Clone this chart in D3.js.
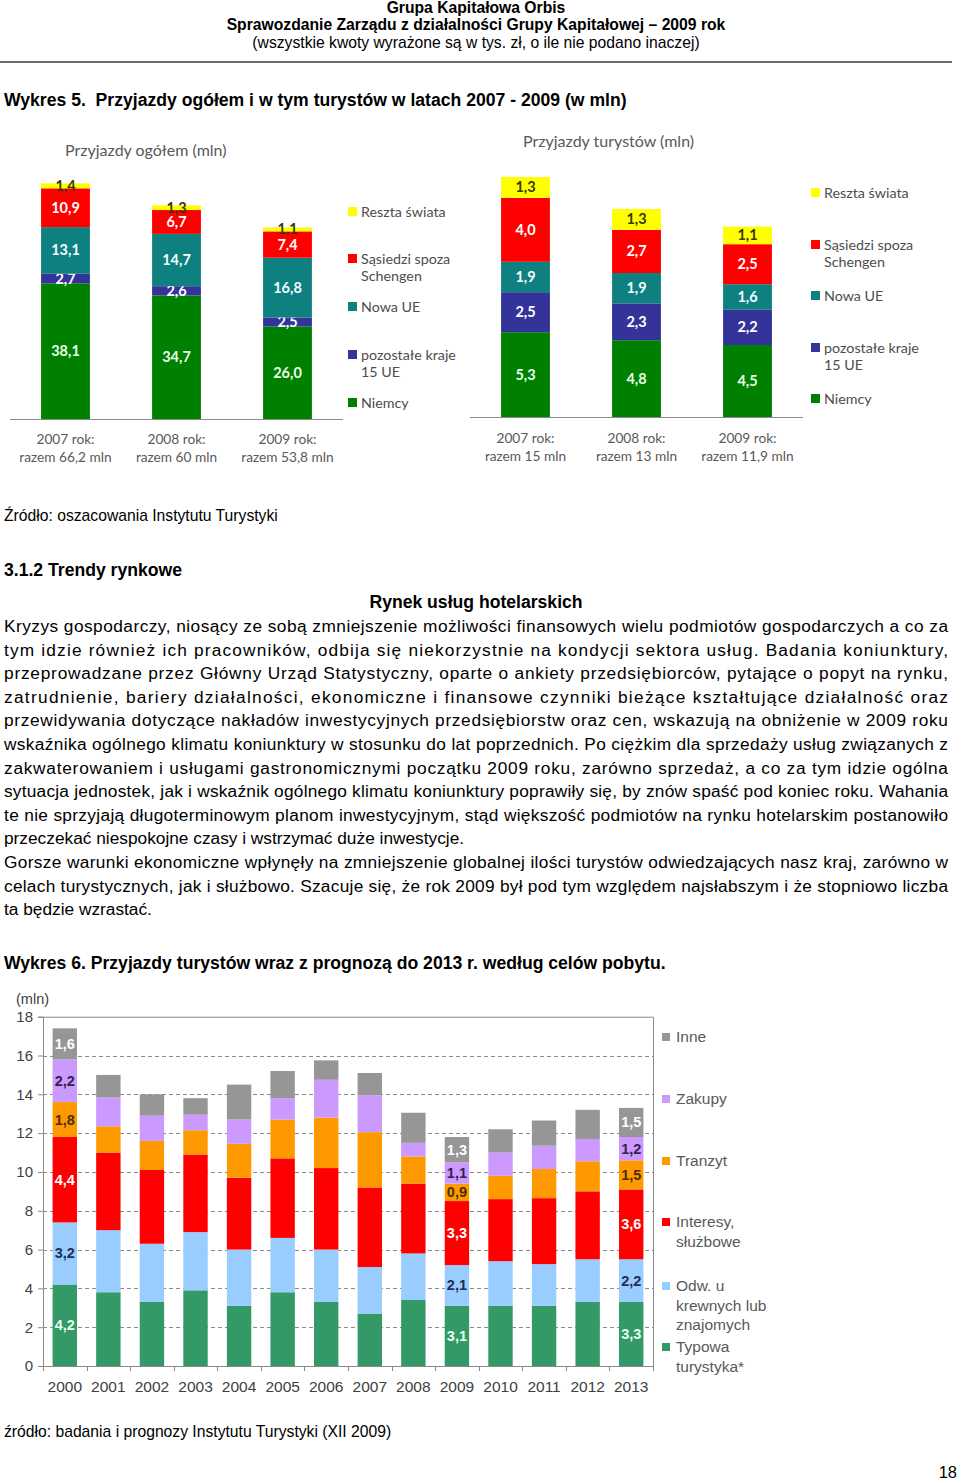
<!DOCTYPE html>
<html>
<head>
<meta charset="utf-8">
<script src="https://cdn.jsdelivr.net/npm/d3@7"></script>
<style>
  body { margin: 0; background: #fff; }
  svg { display: block; }
</style>
</head>
<body>
<div id="page"></div>
<script>
// Wykres 5 - przyjazdy ogółem (mln)
var topYears = ["2007", "2008", "2009"];
var allNiemcy = [38.1, 34.7, 26.0];
var allPozostale = [2.7, 2.6, 2.5];
var allNowaUE = [13.1, 14.7, 16.8];
var allSasiedzi = [10.9, 6.7, 7.4];
var allReszta = [1.4, 1.3, 1.1];
var allTotals = ["66,2", "60", "53,8"];

// Wykres 5 - przyjazdy turystów (mln)
var turNiemcy = [5.3, 4.8, 4.5];
var turPozostale = [2.5, 2.3, 2.2];
var turNowaUE = [1.9, 1.9, 1.6];
var turSasiedzi = [4.0, 2.7, 2.5];
var turReszta = [1.3, 1.3, 1.1];
var turTotals = ["15", "13", "11,9"];

// Wykres 6 - cele pobytu 2000-2013 (mln)
var years = ["2000", "2001", "2002", "2003", "2004", "2005", "2006",
             "2007", "2008", "2009", "2010", "2011", "2012", "2013"];
var typowa = [4.2, 3.8, 3.3, 3.9, 3.1, 3.8, 3.3, 2.7, 3.4, 3.1, 3.1, 3.1, 3.3, 3.3];
var odwiedziny = [3.2, 3.2, 3.0, 3.0, 2.9, 2.8, 2.7, 2.4, 2.4, 2.1, 2.3, 2.15, 2.2, 2.2];
var interesy = [4.4, 4.0, 3.8, 4.0, 3.7, 4.1, 4.2, 4.1, 3.6, 3.3, 3.2, 3.4, 3.5, 3.6];
var tranzyt = [1.8, 1.35, 1.5, 1.25, 1.75, 2.0, 2.6, 2.85, 1.4, 0.9, 1.2, 1.5, 1.55, 1.5];
var zakupy = [2.2, 1.5, 1.3, 0.8, 1.25, 1.1, 1.95, 1.9, 0.7, 1.1, 1.2, 1.2, 1.15, 1.2];
var inne = [1.6, 1.15, 1.1, 0.85, 1.8, 1.4, 1.0, 1.15, 1.55, 1.3, 1.2, 1.3, 1.5, 1.5];
var labeledYears = ["2000", "2009", "2013"];
var yTicks = [0, 2, 4, 6, 8, 10, 12, 14, 16, 18];

var topLegend = [
  { name: ["Reszta świata"], color: "#ffff00" },
  { name: ["Sąsiedzi spoza", "Schengen"], color: "#ff0000" },
  { name: ["Nowa UE"], color: "#0f8080" },
  { name: ["pozostałe kraje", "15 UE"], color: "#333399" },
  { name: ["Niemcy"], color: "#008000" }
];
var topLabelColors = ["#e8ffe8", "#ffffff", "#f0ffff", "#ffffff", "#3a3a00"];

var svg = d3.select("#page").append("svg")
    .attr("width", 960).attr("height", 1480)
    .style("background", "#fff");

var arial = "'Liberation Sans', Arial, sans-serif";
var calib = "Lato, 'Open Sans', sans-serif";
var grey = "#595959";

/** HEADER **/
function txt(x, y, s, size, weight, anchor, font, fill) {
  return svg.append("text")
    .attr("x", x).attr("y", y)
    .attr("font-family", font || arial)
    .attr("font-size", size)
    .attr("font-weight", weight || "normal")
    .attr("text-anchor", anchor || "start")
    .attr("fill", fill || "#000")
    .style("white-space", "pre")
    .text(s);
}
txt(476, 13, "Grupa Kapitałowa Orbis", 15.7, "bold", "middle");
txt(476, 30, "Sprawozdanie Zarządu z działalności Grupy Kapitałowej – 2009 rok", 15.7, "bold", "middle");
txt(476, 48, "(wszystkie kwoty wyrażone są w tys. zł, o ile nie podano inaczej)", 15.7, "normal", "middle");
svg.append("line").attr("x1", 0).attr("x2", 952).attr("y1", 62).attr("y2", 62)
   .attr("stroke", "#6b6b6b").attr("stroke-width", 2);

txt(4, 106, "Wykres 5.  Przyjazdy ogółem i w tym turystów w latach 2007 - 2009 (w mln)", 17.6, "bold");

/** TOP STACKED CHARTS **/
function drawTopChart(cfg) {
  var series = [cfg.s0, cfg.s1, cfg.s2, cfg.s3, cfg.s4];
  var colors = ["#008000", "#333399", "#0f8080", "#ff0000", "#ffff00"];
  var g = svg.append("g");

  var x = d3.scaleBand().domain(topYears)
      .range([cfg.x0, cfg.x1]).paddingInner(0.56).paddingOuter(0.28);
  var y = d3.scaleLinear().domain([0, cfg.maxV])
      .range([cfg.base, cfg.base - cfg.maxV * cfg.pxPerUnit]);

  var rows = topYears.map(function (yr, i) {
    var o = { year: yr };
    for (var k = 0; k < series.length; k++) o["k" + k] = series[k][i];
    return o;
  });
  var stack = d3.stack().keys(["k0", "k1", "k2", "k3", "k4"])(rows);

  stack.forEach(function (layer, li) {
    g.selectAll(null).data(layer).enter().append("rect")
      .attr("x", function (d) { return x(d.data.year); })
      .attr("width", x.bandwidth())
      .attr("y", function (d) { return y(d[1]); })
      .attr("height", function (d) { return y(d[0]) - y(d[1]); })
      .attr("fill", colors[li]);
    g.selectAll(null).data(layer).enter().append("text")
      .attr("x", function (d) { return x(d.data.year) + x.bandwidth() / 2; })
      .attr("y", function (d) { return (y(d[0]) + y(d[1])) / 2 + 5; })
      .attr("text-anchor", "middle")
      .attr("font-family", calib)
      .attr("font-weight", "bold")
      .attr("font-size", 14.5)
      .attr("fill", topLabelColors[li])
      .text(function (d) { return d3.format(".1f")(d[1] - d[0]).replace(".", ","); });
  });

  g.append("line").attr("x1", cfg.x0).attr("x2", cfg.x1)
    .attr("y1", cfg.base + 0.5).attr("y2", cfg.base + 0.5)
    .attr("stroke", "#8c8c8c").attr("stroke-width", 1.2);

  topYears.forEach(function (yr, i) {
    var cx = x(yr) + x.bandwidth() / 2;
    txt(cx, cfg.catY, yr + " rok:", 13.7, "normal", "middle", calib, grey);
    txt(cx, cfg.catY + 18, "razem " + cfg.totals[i] + " mln", 13.7, "normal", "middle", calib, grey);
  });

  txt(cfg.titleX, cfg.titleY, cfg.title, 16, "normal", "start", calib, grey);

  topLegend.forEach(function (l, i) {
    var ly = cfg.legY[i];
    g.append("rect").attr("x", cfg.legX).attr("y", ly - 5)
      .attr("width", 9).attr("height", 9).attr("fill", l.color);
    l.name.forEach(function (ln, j) {
      txt(cfg.legX + 13, ly + 5 + j * 17, ln, 14.3, "normal", "start", calib, "#4d4d4d");
    });
  });
}

drawTopChart({
  s0: allNiemcy, s1: allPozostale, s2: allNowaUE, s3: allSasiedzi, s4: allReszta,
  totals: allTotals, x0: 10, x1: 343, base: 419, maxV: 70, pxPerUnit: 3.56,
  catY: 444, title: "Przyjazdy ogółem (mln)", titleX: 65, titleY: 156,
  legX: 348, legY: [212, 259, 307, 355, 403]
});
drawTopChart({
  s0: turNiemcy, s1: turPozostale, s2: turNowaUE, s3: turSasiedzi, s4: turReszta,
  totals: turTotals, x0: 470, x1: 803, base: 417, maxV: 16, pxPerUnit: 16.0,
  catY: 443, title: "Przyjazdy turystów (mln)", titleX: 523, titleY: 147,
  legX: 811, legY: [193, 245, 296, 348, 399]
});

/** TEXT BLOCK **/
txt(4, 521, "Źródło: oszacowania Instytutu Turystyki", 15.7);
txt(4, 576, "3.1.2 Trendy rynkowe", 17.6, "bold");
txt(476, 608, "Rynek usług hotelarskich", 17.6, "bold", "middle");

var bodyLines = [
  ["Kryzys gospodarczy, niosący ze sobą zmniejszenie możliwości finansowych wielu podmiotów gospodarczych a co za", true],
  ["tym idzie również ich pracowników, odbija się niekorzystnie na kondycji sektora usług. Badania koniunktury,", true],
  ["przeprowadzane przez Główny Urząd Statystyczny, oparte o ankiety przedsiębiorców, pytające o popyt na rynku,", true],
  ["zatrudnienie, bariery działalności, ekonomiczne i finansowe czynniki bieżące kształtujące działalność oraz", true],
  ["przewidywania dotyczące nakładów inwestycyjnych przedsiębiorstw oraz cen, wskazują na obniżenie w 2009 roku", true],
  ["wskaźnika ogólnego klimatu koniunktury w stosunku do lat poprzednich. Po ciężkim dla sprzedaży usług związanych z", true],
  ["zakwaterowaniem i usługami gastronomicznymi początku 2009 roku, zarówno sprzedaż, a co za tym idzie ogólna", true],
  ["sytuacja jednostek, jak i wskaźnik ogólnego klimatu koniunktury poprawiły się, by znów spaść pod koniec roku. Wahania", true],
  ["te nie sprzyjają długoterminowym planom inwestycyjnym, stąd większość podmiotów na rynku hotelarskim postanowiło", true],
  ["przeczekać niespokojne czasy i wstrzymać duże inwestycje.", false],
  ["Gorsze warunki ekonomiczne wpłynęły na zmniejszenie globalnej ilości turystów odwiedzających nasz kraj, zarówno w", true],
  ["celach turystycznych, jak i służbowo. Szacuje się, że rok 2009 był pod tym względem najsłabszym i że stopniowo liczba", true],
  ["ta będzie wzrastać.", false]
];
bodyLines.forEach(function (l, i) {
  var t = txt(4, 632 + i * 23.6, l[0], 17.3);
  if (l[1]) t.attr("textLength", 944).attr("lengthAdjust", "spacing");
});

txt(4, 969, "Wykres 6. Przyjazdy turystów wraz z prognozą do 2013 r. według celów pobytu.", 17.6, "bold");

/** BOTTOM CHART **/
var bx0 = 43, bx1 = 653, by0 = 1366, by1 = 1016.7;
var purposeColors = ["#339966", "#99ccff", "#ff0000", "#ff9900", "#cc99ff", "#969696"];
var purposeLabelColors = ["#e6fff0", "#1f2f55", "#ffffff", "#4a3000", "#33224f", "#ffffff"];
var purposeSeries = [typowa, odwiedziny, interesy, tranzyt, zakupy, inne];

var bx = d3.scaleBand().domain(years).range([bx0, bx1]).paddingInner(0.44).paddingOuter(0.22);
var by = d3.scaleLinear().domain([0, 18]).range([by0, by1]);

var bg = svg.append("g");
// dashed grid
bg.selectAll(null).data(yTicks.filter(function (v) { return v > 0 && v < 18; })).enter()
  .append("line")
  .attr("x1", bx0).attr("x2", bx1)
  .attr("y1", function (d) { return Math.round(by(d)) + 0.5; })
  .attr("y2", function (d) { return Math.round(by(d)) + 0.5; })
  .attr("stroke", "#8a8a8a").attr("stroke-dasharray", "4,3");
// plot frame top/right
bg.append("path")
  .attr("d", "M" + bx0 + "," + (by1 + 0.5) + "H" + (bx1 + 0.5) + "V" + by0)
  .attr("fill", "none").attr("stroke", "#8a8a8a");

var rows6 = years.map(function (yr, i) {
  var o = { year: yr };
  for (var k = 0; k < purposeSeries.length; k++) o["p" + k] = purposeSeries[k][i];
  return o;
});
var stack6 = d3.stack().keys(["p0", "p1", "p2", "p3", "p4", "p5"])(rows6);

stack6.forEach(function (layer, li) {
  bg.selectAll(null).data(layer).enter().append("rect")
    .attr("x", function (d) { return bx(d.data.year); })
    .attr("width", bx.bandwidth())
    .attr("y", function (d) { return by(d[1]); })
    .attr("height", function (d) { return by(d[0]) - by(d[1]); })
    .attr("fill", purposeColors[li]);
  bg.selectAll(null)
    .data(layer.filter(function (d) { return labeledYears.indexOf(d.data.year) >= 0; }))
    .enter().append("text")
    .attr("x", function (d) { return bx(d.data.year) + bx.bandwidth() / 2; })
    .attr("y", function (d) { return (by(d[0]) + by(d[1])) / 2 + 5; })
    .attr("text-anchor", "middle")
    .attr("font-family", arial)
    .attr("font-weight", "bold")
    .attr("font-size", 14.5)
    .attr("fill", purposeLabelColors[li])
    .text(function (d) { return d3.format(".1f")(d[1] - d[0]).replace(".", ","); });
});

// axes
var yAxis = d3.axisLeft(by).tickValues(yTicks).tickSize(5).tickPadding(5)
    .tickFormat(d3.format("d"));
var yg = bg.append("g").attr("transform", "translate(" + bx0 + ",0)").call(yAxis);
yg.selectAll("text").attr("font-family", arial).attr("font-size", 15).attr("fill", "#404040");

var xAxis = d3.axisBottom(bx).tickSize(0).tickPadding(15);
var xg = bg.append("g").attr("transform", "translate(0," + by0 + ")").call(xAxis);
xg.selectAll("text").attr("font-family", arial).attr("font-size", 15.5).attr("fill", "#404040");
// tick marks at band boundaries
xg.selectAll(".bnd").data(years.concat(["end"])).enter().append("line")
  .attr("x1", function (d, i) { return Math.round(bx0 + i * bx.step()) + 0.5; })
  .attr("x2", function (d, i) { return Math.round(bx0 + i * bx.step()) + 0.5; })
  .attr("y1", 0).attr("y2", 5).attr("stroke", "#8a8a8a");
yg.selectAll("path,line").attr("stroke", "#8a8a8a");
xg.selectAll("path").attr("stroke", "#8a8a8a");

txt(16, 1004, "(mln)", 14.5, "normal", "start", arial, "#404040");

var legend6 = [
  { name: ["Inne"], color: "#969696", y: 1037 },
  { name: ["Zakupy"], color: "#cc99ff", y: 1099 },
  { name: ["Tranzyt"], color: "#ff9900", y: 1161 },
  { name: ["Interesy,", "służbowe"], color: "#ff0000", y: 1222 },
  { name: ["Odw. u", "krewnych lub", "znajomych"], color: "#99ccff", y: 1286 },
  { name: ["Typowa", "turystyka*"], color: "#339966", y: 1347 }
];
legend6.forEach(function (l) {
  bg.append("rect").attr("x", 662).attr("y", l.y - 4)
    .attr("width", 8).attr("height", 8).attr("fill", l.color);
  l.name.forEach(function (ln, j) {
    txt(676, l.y + 5 + j * 19.5, ln, 15.5, "normal", "start", arial, grey);
  });
});

txt(4, 1437, "źródło: badania i prognozy Instytutu Turystyki (XII 2009)", 15.7);
txt(957, 1478, "18", 16.5, "normal", "end");
</script>
</body>
</html>
